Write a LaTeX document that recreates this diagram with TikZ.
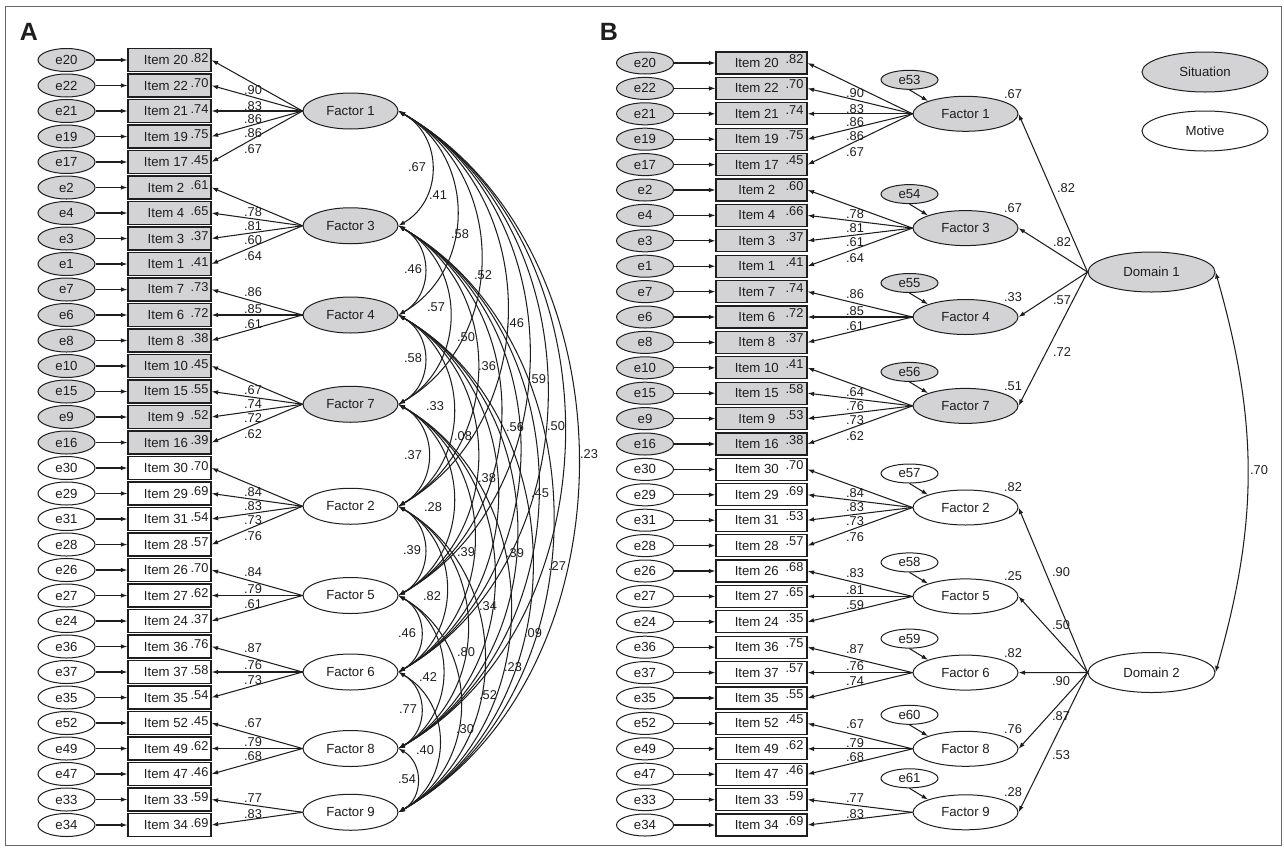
\documentclass[tikz,border=0pt]{standalone}
\usepackage{fontspec}
\setmainfont{Liberation Sans}
\usetikzlibrary{shapes.geometric,arrows.meta}
\definecolor{situ}{RGB}{211,211,213}
\definecolor{ink}{RGB}{30,30,30}
\begin{document}
\begin{tikzpicture}[x=1pt,y=-1pt,
  basefont/.style={font=\fontsize{13.2}{15}\selectfont, text=ink, inner sep=0pt},
  num/.style={font=\fontsize{12.8}{14}\selectfont, text=ink, inner sep=0pt},
  evar/.style={basefont, ellipse, draw=ink, line width=1pt, minimum width=57pt, minimum height=23pt},
  evarB/.style={evar, minimum height=22pt},
  dist/.style={evar, minimum height=19pt},
  itemA/.style={basefont, rectangle, draw=ink, line width=1.2pt, minimum width=83pt, minimum height=23pt},
  itemB/.style={itemA, minimum width=91pt, minimum height=22pt},
  latentA/.style={basefont, ellipse, draw=ink, line width=1pt, minimum width=95pt, minimum height=36pt},
  latentB/.style={latentA, minimum width=105pt, minimum height=35pt},
  domnode/.style={latentA, minimum width=127pt, minimum height=40pt},
  arr/.style={draw=ink, line width=1.05pt, -{Latex[length=6.5pt,width=4.6pt]}},
  cov/.style={draw=ink, line width=1.05pt, {Latex[length=6.5pt,width=4.6pt]}-{Latex[length=6.5pt,width=4.6pt]}},
  panel/.style={font=\bfseries\fontsize{25}{25}\selectfont, text=ink, inner sep=0pt}
]
\useasboundingbox (0,0) rectangle (1284,849);
\draw[black!60, line width=0.8pt] (5,6) rectangle (1281,845);

\node[panel] (labA) at (29,32) {A};
\node[panel] (labB) at (609,32) {B};

% legend
\node[domnode, fill=situ, minimum width=126pt] (legS) at (1205,72) {Situation};
\node[domnode, fill=white, minimum width=126pt] (legM) at (1205,131) {Motive};

% domains of the second-order model
\node[domnode, fill=situ] (d1) at (1151.5,272) {Domain 1};
\node[domnode, fill=white] (d2) at (1151.5,672.5) {Domain 2};
\draw[cov] (d1.east) to[bend left=16] (d2.east);
\node[num] (cD) at (1259,470) {.70};

% first-order factors (position, number, centre row, fill, R2, domain, loading, label pos)
\foreach \p/\n/\c/\fc/\rr/\dl/\dv/\lx/\ly in {
  0/1/2/situ/.67/d1/.82/1066/188,
  1/3/6.5/situ/.67/d1/.82/1062/242,
  2/4/10/situ/.33/d1/.57/1062/300,
  3/7/13.5/situ/.51/d1/.72/1062/352,
  4/2/17.5/white/.82/d2/.90/1061/572,
  5/5/21/white/.25/d2/.50/1061/625,
  6/6/24/white/.82/d2/.90/1061/681,
  7/8/27/white/.76/d2/.87/1061/716,
  8/9/29.5/white/.28/d2/.53/1061/755}{
  \pgfmathsetmacro\fya{60+25.5*\c}
  \pgfmathsetmacro\fyb{63+25.4*\c}
  \pgfmathtruncatemacro\dn{53+\p}
  \node[latentA, fill=\fc] (fa\p) at (350.5,\fya) {Factor \n};
  \node[latentB, fill=\fc] (fb\p) at (965.5,\fyb) {Factor \n};
  \node[dist, fill=\fc] (z\p) at (909.5,{\fyb-34}) {e\dn};
  \draw[arr] (z\p.south) -- (fb\p.north west);
  \node[num] (rf\p) at (1013,{\fyb-20}) {\rr};
  \draw[arr] (\dl.west) -- (fb\p.east);
  \node[num] (dlab\p) at (\lx,\ly) {\dv};
}

% observed items with their residuals and loadings
\foreach \i/\e/\ra/\rb/\p/\c/\la/\lb/\dy in {
  0/20/.82/.82/0/2/.90/.90/-21,
  1/22/.70/.70/0/2/.83/.83/-5,
  2/21/.74/.74/0/2/.86/.86/8,
  3/19/.75/.75/0/2/.86/.86/22,
  4/17/.45/.45/0/2/.67/.67/38,
  5/2/.61/.60/1/6.5/.78/.78/-14,
  6/4/.65/.66/1/6.5/.81/.81/0,
  7/3/.37/.37/1/6.5/.60/.61/14,
  8/1/.41/.41/1/6.5/.64/.64/30,
  9/7/.73/.74/2/10/.86/.86/-23,
  10/6/.72/.72/2/10/.85/.85/-6,
  11/8/.38/.37/2/10/.61/.61/9,
  12/10/.45/.41/3/13.5/.67/.64/-14,
  13/15/.55/.58/3/13.5/.74/.76/0,
  14/9/.52/.53/3/13.5/.72/.73/14,
  15/16/.39/.38/3/13.5/.62/.62/30,
  16/30/.70/.70/4/17.5/.84/.84/-14,
  17/29/.69/.69/4/17.5/.83/.83/0,
  18/31/.54/.53/4/17.5/.73/.73/14,
  19/28/.57/.57/4/17.5/.76/.76/30,
  20/26/.70/.68/5/21/.84/.83/-23,
  21/27/.62/.65/5/21/.79/.81/-6,
  22/24/.37/.35/5/21/.61/.59/9,
  23/36/.76/.75/6/24/.87/.87/-24,
  24/37/.58/.57/6/24/.76/.76/-7,
  25/35/.54/.55/6/24/.73/.74/8,
  26/52/.45/.45/7/27/.67/.67/-25,
  27/49/.62/.62/7/27/.79/.79/-6,
  28/47/.46/.46/7/27/.68/.68/8,
  29/33/.59/.59/8/29.5/.77/.77/-14,
  30/34/.69/.69/8/29.5/.83/.83/2}{
  \ifnum\i<16 \def\fc{situ}\else\def\fc{white}\fi
  \pgfmathsetmacro\ya{60+25.5*\i}
  \pgfmathsetmacro\yb{63+25.4*\i}
  % panel A
  \node[evar, fill=\fc] (ea\i) at (66.5,\ya) {e\e};
  \node[itemA, fill=\fc] (ia\i) at (169.5,\ya) {Item \e\hspace*{7pt}};
  \node[num, anchor=east] (ra\i) at ([xshift=-3pt,yshift=2pt]ia\i.east) {\ra};
  \draw[arr] (ea\i) -- (ia\i);
  \draw[arr] (fa\p.west) -- (ia\i.east);
  \node[num] (la\i) at (253,{60+25.5*\c+\dy}) {\la};
  % panel B
  \node[evarB, fill=\fc] (eb\i) at (645,\yb) {e\e};
  \node[itemB, fill=\fc] (ib\i) at (761.5,\yb) {Item \e\hspace*{9.4pt}};
  \node[num, anchor=east] (rb\i) at ([xshift=-4pt,yshift=4pt]ib\i.east) {\rb};
  \draw[arr] (eb\i) -- (ib\i);
  \draw[arr] (fb\p.west) -- (ib\i.east);
  \node[num] (lb\i) at (855,{63+25.4*\c+\dy}) {\lb};
}

% factor correlations of the first-order model
\foreach \a/\b/\v/\lx/\ly in {
  0/1/.67/417/167, 1/2/.46/413/269, 2/3/.58/413/358, 3/4/.37/413/455,
  4/5/.39/412/550, 5/6/.46/407/633, 6/7/.77/408/709, 7/8/.54/407/779,
  0/2/.41/438/195, 1/3/.57/436/307, 2/4/.33/435/406, 3/5/.28/433/507,
  4/6/.82/432/596, 5/7/.42/428/677, 6/8/.40/425/750,
  0/3/.58/460/234, 1/4/.50/466/337, 2/5/.08/463/436, 3/6/.39/466/552,
  4/7/.80/466/652, 5/8/.30/465/729,
  0/4/.52/483/275, 1/5/.36/487/366, 2/6/.38/487/478, 3/7/.34/488/606,
  4/8/.52/488/695,
  0/5/.46/515/323, 1/6/.56/515/427, 2/7/.39/515/553, 3/8/.23/513/667,
  0/6/.59/537/379, 1/7/.45/540/493, 2/8/.09/533/633,
  0/7/.50/556/426, 1/8/.27/557/566,
  0/8/.23/589/454}{
  \pgfmathsetmacro\ra{{2,6.5,10,13.5,17.5,21,24,27,29.5}[\a]}
  \pgfmathsetmacro\rbb{{2,6.5,10,13.5,17.5,21,24,27,29.5}[\b]}
  \pgfmathsetmacro\lo{(0.293-(25.5*(\rbb-\ra)-116)*0.000058)/0.2543}
  \draw[cov] (fa\a.east) to[bend left=60, looseness=\lo] (fa\b.east);
  \node[num] (c\a\b) at (\lx,\ly) {\v};
}
\end{tikzpicture}
\end{document}
